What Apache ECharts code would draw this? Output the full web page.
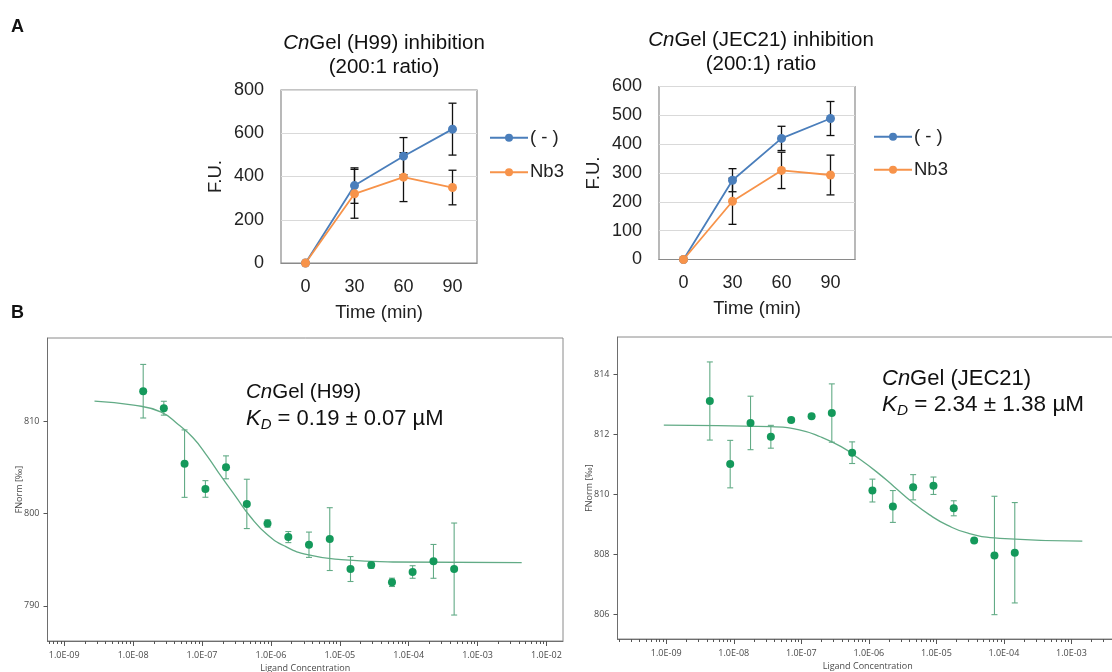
<!DOCTYPE html>
<html><head><meta charset="utf-8">
<script src="https://cdn.jsdelivr.net/npm/echarts@6/dist/echarts.min.js"></script>
<style>html,body{margin:0;padding:0;background:#fff}#c{width:1112px;height:672px}</style>
</head><body><div id="c"></div><script>
// ---------- Panel A data ----------
const timeCats = ['0', '30', '60', '90'];
const h99None = [0, 358, 494, 619];
const h99NoneErr = [0, 82, 86, 120];
const h99Nb3 = [0, 320, 397, 349];
const h99Nb3Err = [0, 113, 113, 80];
const jecNone = [0, 275, 420, 489];
const jecNoneErr = [0, 40, 42, 59];
const jecNb3 = [0, 202, 309, 293];
const jecNb3Err = [0, 80, 63, 69];

// ---------- Panel B data ----------
const h99Conc = [1.40e-8, 2.79e-8, 5.58e-8, 1.12e-7, 2.23e-7, 4.47e-7, 8.93e-7, 1.79e-6, 3.57e-6, 7.15e-6, 1.43e-5, 2.86e-5, 5.72e-5, 1.14e-4, 2.29e-4, 4.57e-4];
const h99FNorm = [813.24, 811.4, 805.4, 802.66, 805.0, 801.04, 798.92, 797.45, 796.62, 797.23, 793.99, 794.42, 792.55, 793.67, 794.82, 793.99];
const h99FErr = [2.9, 0.75, 3.65, 0.9, 1.24, 2.67, 0.4, 0.6, 1.37, 3.4, 1.35, 0.35, 0.45, 0.68, 1.83, 4.98];
const h99FitConc = [2.75e-9, 1.02e-8, 2.51e-8, 4.57e-8, 7.41e-8, 1.17e-7, 1.91e-7, 3.09e-7, 5.01e-7, 8.91e-7, 1.62e-6, 3.39e-6, 1.05e-5, 5.89e-5, 4.37e-3];
const h99Fit = [812.16, 811.73, 811.0, 809.6, 808.2, 806.3, 803.99, 801.83, 799.68, 797.7, 796.44, 795.54, 795.0, 794.75, 794.68];

const jecConc = [4.42e-9, 8.85e-9, 1.77e-8, 3.54e-8, 7.08e-8, 1.42e-7, 2.83e-7, 5.66e-7, 1.13e-6, 2.27e-6, 4.53e-6, 9.06e-6, 1.81e-5, 3.63e-5, 7.25e-5, 1.45e-4];
const jecFNorm = [813.10, 811.0, 812.37, 811.91, 812.47, 812.59, 812.70, 811.38, 810.12, 809.59, 810.23, 810.28, 809.53, 808.46, 807.96, 808.05];
const jecFErr = [1.3, 0.79, 0.89, 0.38, 0.08, 0.06, 0.97, 0.36, 0.38, 0.53, 0.42, 0.29, 0.25, 0.05, 1.97, 1.67];
const jecFitConc = [9.2e-10, 3.55e-8, 9.33e-8, 1.91e-7, 3.89e-7, 7.08e-7, 1.29e-6, 2.37e-6, 4.31e-6, 7.94e-6, 1.45e-5, 2.95e-5, 8.71e-5, 1.45e-3];
const jecFit = [812.30, 812.25, 812.14, 811.91, 811.58, 811.19, 810.75, 810.25, 809.75, 809.31, 808.97, 808.70, 808.53, 808.44];

// ---------- tick labels ----------
const b1DecadeExp = [-9, -8, -7, -6, -5, -4, -3, -2];
const b1DecadeLabels = ['1.0E-09', '1.0E-08', '1.0E-07', '1.0E-06', '1.0E-05', '1.0E-04', '1.0E-03', '1.0E-02'];
const b2DecadeExp = [-9, -8, -7, -6, -5, -4, -3];
const b2DecadeLabels = ['1.0E-09', '1.0E-08', '1.0E-07', '1.0E-06', '1.0E-05', '1.0E-04', '1.0E-03'];
const b1YTicks = [790, 800, 810];
const b2YTicks = [806, 808, 810, 812, 814];

// ---------- helpers ----------
const F = 'Liberation Sans, Arial, sans-serif';
const FS = 'Open Sans, Noto Sans, sans-serif';
const BLUE = '#4a7ebb', ORANGE = '#f7934a', GREEN = '#14995b', GREEN_L = '#62ab86';
const B1X = [-9.243, -1.76], B2X = [-9.722, -2.31];

function logTicks(ext) {
  const out = [];
  for (let n = Math.floor(ext[0]); n <= Math.ceil(ext[1]); n++) {
    for (let k = 1; k < 10; k++) {
      const v = n + Math.log10(k);
      if (v >= ext[0] && v <= ext[1]) out.push(v);
    }
  }
  return out;
}
function errRender(capW, color, lw) {
  return function (params, api) {
    const x = api.value(0), y = api.value(1), e = api.value(2);
    const hi = api.coord([x, y + e]), lo = api.coord([x, y - e]);
    const st = { stroke: color, lineWidth: lw };
    return {
      type: 'group', children: [
        { type: 'line', shape: { x1: hi[0], y1: hi[1], x2: lo[0], y2: lo[1] }, style: st },
        { type: 'line', shape: { x1: hi[0] - capW / 2, y1: hi[1], x2: hi[0] + capW / 2, y2: hi[1] }, style: st },
        { type: 'line', shape: { x1: lo[0] - capW / 2, y1: lo[1], x2: lo[0] + capW / 2, y2: lo[1] }, style: st }
      ]
    };
  };
}
function errData(vals, errs) {
  const d = [];
  vals.forEach((v, i) => { if (errs[i] > 0) d.push([i, v, errs[i]]); });
  return d;
}
function logPairs(xs, ys, errs) {
  return xs.map((c, i) => errs ? [Math.log10(c), ys[i], errs[i]] : [Math.log10(c), ys[i]]);
}
function decadeFmt(exps, labels) {
  return function (v) {
    const i = exps.indexOf(Math.round(v));
    return i >= 0 && Math.abs(v - exps[i]) < 1e-6 ? labels[i] : '';
  };
}

const aLabel = { fontFamily: F, fontSize: 18, color: '#222' };
function catX(gi) {
  return {
    type: 'category', gridIndex: gi, data: timeCats, boundaryGap: true,
    axisLine: { lineStyle: { color: '#8a8a8a', width: 1.2 } }, axisTick: { show: false },
    axisLabel: Object.assign({ margin: 15 }, aLabel),
    name: 'Time (min)', nameLocation: 'middle', nameGap: 40, nameMoveOverlap: false,
    nameTextStyle: { fontFamily: F, fontSize: 18.5, color: '#222' }
  };
}
function valY(gi, max, interval) {
  return {
    type: 'value', gridIndex: gi, min: 0, max: max, interval: interval,
    axisLine: { show: false }, axisTick: { show: false },
    axisLabel: Object.assign({ margin: 17 }, aLabel),
    splitLine: { lineStyle: { color: '#d9d9d9', width: 1.2 } },
    name: 'F.U.', nameLocation: 'middle', nameGap: 56, nameRotate: 90, nameMoveOverlap: false,
    nameTextStyle: { fontFamily: F, fontSize: 18.5, color: '#222' }
  };
}
const bLabel = { fontFamily: FS, fontSize: 9, color: '#4a4a4a' };
function logX(gi, ext, exps, labels) {
  return {
    type: 'value', gridIndex: gi, position: 'bottom', min: ext[0], max: ext[1],
    axisLine: { lineStyle: { color: '#6e6e6e' } },
    axisTick: { show: true, length: 3, customValues: logTicks(ext), lineStyle: { color: '#555' } },
    axisLabel: Object.assign({ margin: 10, customValues: exps, formatter: decadeFmt(exps, labels) }, bLabel),
    splitLine: { show: false },
    name: 'Ligand Concentration', nameLocation: 'middle', nameGap: 22.5, nameMoveOverlap: false,
    nameTextStyle: { fontFamily: FS, fontSize: 9, color: '#4a4a4a' }
  };
}
function majorX(gi, ext, exps) {
  return {
    type: 'value', gridIndex: gi, position: 'bottom', min: ext[0], max: ext[1],
    axisLine: { show: false },
    axisTick: { show: true, length: 5, customValues: exps, lineStyle: { color: '#555' } },
    axisLabel: { show: false }, splitLine: { show: false }
  };
}
function fY(gi, min, max, ticks, gap) {
  return {
    type: 'value', gridIndex: gi, min: min, max: max,
    axisLine: { show: true, lineStyle: { color: '#6e6e6e' } },
    axisTick: { show: true, length: 4, customValues: ticks, lineStyle: { color: '#555' } },
    axisLabel: Object.assign({ margin: 8, customValues: ticks }, bLabel),
    splitLine: { show: false },
    name: 'FNorm [‰]', nameLocation: 'middle', nameGap: gap, nameRotate: 90, nameMoveOverlap: false,
    nameTextStyle: { fontFamily: FS, fontSize: 9, color: '#4a4a4a' }
  };
}
function lineSeries(name, data, color, xi, yi) {
  return {
    type: 'line', name: name, xAxisIndex: xi, yAxisIndex: yi, data: data,
    symbol: 'circle', symbolSize: 9, z: 3,
    lineStyle: { color: color, width: 1.8 }, itemStyle: { color: color }
  };
}
function aErr(vals, errs, xi, yi) {
  return {
    type: 'custom', name: 'err', xAxisIndex: xi, yAxisIndex: yi, z: 2,
    renderItem: errRender(8, '#111', 1.3), data: errData(vals, errs), encode: { x: 0, y: 1 }
  };
}
function legendAt(left, top, gap) {
  return {
    data: ['( - )', 'Nb3'], orient: 'vertical', left: left, top: top, padding: 0,
    itemWidth: 38, itemHeight: 10, itemGap: gap, selectedMode: false,
    textStyle: { fontFamily: F, fontSize: 18.5, color: '#222', lineHeight: 20, padding: [0, 0, 0, -3] }
  };
}
function txt(x, y, text, size, extra) {
  return {
    type: 'text', x: x, y: y, silent: true,
    style: Object.assign({
      text: text, fontFamily: F, fontSize: size, fill: '#111',
      align: 'left', verticalAlign: 'middle', textAlign: 'left', textVerticalAlign: 'middle'
    }, extra || {})
  };
}
const italicRich = (size) => ({
  i: { fontStyle: 'italic', fontSize: size, fontFamily: F, fill: '#111', color: '#111' },
  n: { fontSize: size, fontFamily: F, fill: '#111', color: '#111' },
  s: { fontStyle: 'italic', fontSize: size * 0.68, fontFamily: F, fill: '#111', color: '#111', padding: [size * 0.55, 0, 0, 0] }
});
const gridBase = { show: true, containLabel: false, outerBoundsMode: 'none' };

const option = {
  animation: false,
  backgroundColor: '#fff',
  grid: [
    Object.assign({ left: 281, top: 90, width: 196, height: 173, borderColor: '#8a8a8a', borderWidth: 1.2 }, gridBase),
    Object.assign({ left: 659, top: 86.5, width: 196, height: 173, borderColor: '#8a8a8a', borderWidth: 1.2 }, gridBase),
    Object.assign({ left: 47.5, top: 338, width: 515.5, height: 303, borderColor: '#8a8a8a', borderWidth: 1 }, gridBase),
    Object.assign({ left: 617.5, top: 337, width: 500.5, height: 302, borderColor: '#8a8a8a', borderWidth: 1 }, gridBase)
  ],
  xAxis: [
    catX(0), catX(1),
    logX(2, B1X, b1DecadeExp, b1DecadeLabels), logX(3, B2X, b2DecadeExp, b2DecadeLabels),
    majorX(2, B1X, b1DecadeExp), majorX(3, B2X, b2DecadeExp)
  ],
  yAxis: [
    valY(0, 800, 200), valY(1, 600, 100),
    fY(2, 786.2, 819.0, b1YTicks, 23.5), fY(3, 805.18, 815.23, b2YTicks, 24)
  ],
  legend: [legendAt(489, 127.7, 14.6), legendAt(873, 126.7, 13)],
  series: [
    aErr(h99None, h99NoneErr, 0, 0), aErr(h99Nb3, h99Nb3Err, 0, 0),
    lineSeries('( - )', h99None, BLUE, 0, 0), lineSeries('Nb3', h99Nb3, ORANGE, 0, 0),
    aErr(jecNone, jecNoneErr, 1, 1), aErr(jecNb3, jecNb3Err, 1, 1),
    lineSeries('( - )', jecNone, BLUE, 1, 1), lineSeries('Nb3', jecNb3, ORANGE, 1, 1),
    // B1
    { type: 'line', name: 'fit1', xAxisIndex: 2, yAxisIndex: 2, data: logPairs(h99FitConc, h99Fit),
      smooth: 0.5, showSymbol: false, symbol: 'none', z: 2,
      lineStyle: { color: GREEN_L, width: 1.3 } },
    { type: 'custom', name: 'errB1', xAxisIndex: 2, yAxisIndex: 2, z: 3,
      renderItem: errRender(6, GREEN_L, 1.1), data: logPairs(h99Conc, h99FNorm, h99FErr), encode: { x: 0, y: 1 } },
    { type: 'scatter', name: 'pts1', xAxisIndex: 2, yAxisIndex: 2, data: logPairs(h99Conc, h99FNorm),
      symbol: 'circle', symbolSize: 8, z: 4, itemStyle: { color: GREEN, opacity: 1 } },
    // B2
    { type: 'line', name: 'fit2', xAxisIndex: 3, yAxisIndex: 3, data: logPairs(jecFitConc, jecFit),
      smooth: 0.5, showSymbol: false, symbol: 'none', z: 2,
      lineStyle: { color: GREEN_L, width: 1.3 } },
    { type: 'custom', name: 'errB2', xAxisIndex: 3, yAxisIndex: 3, z: 3,
      renderItem: errRender(6, GREEN_L, 1.1), data: logPairs(jecConc, jecFNorm, jecFErr), encode: { x: 0, y: 1 } },
    { type: 'scatter', name: 'pts2', xAxisIndex: 3, yAxisIndex: 3, data: logPairs(jecConc, jecFNorm),
      symbol: 'circle', symbolSize: 8, z: 4, itemStyle: { color: GREEN, opacity: 1 } }
  ],
  graphic: [
    txt(11, 27, 'A', 18, { fontWeight: 'bold' }),
    txt(11, 313, 'B', 18, { fontWeight: 'bold' }),
    txt(384, 43, '{i|Cn}{n|Gel (H99) inhibition}', 20.5, { align: 'center', textAlign: 'center', rich: italicRich(20.5) }),
    txt(384, 67, '(200:1 ratio)', 20.5, { align: 'center', textAlign: 'center' }),
    txt(761, 40, '{i|Cn}{n|Gel (JEC21) inhibition}', 20.5, { align: 'center', textAlign: 'center', rich: italicRich(20.5) }),
    txt(761, 64, '(200:1) ratio', 20.5, { align: 'center', textAlign: 'center' }),
    txt(246, 392, '{i|Cn}{n|Gel (H99)}', 20.5, { rich: italicRich(20.5) }),
    txt(246, 419, '{i|K}{s|D}{n| = 0.19 ± 0.07 µM}', 22, { rich: italicRich(22) }),
    txt(882, 379, '{i|Cn}{n|Gel (JEC21)}', 22, { rich: italicRich(22) }),
    txt(882, 405, '{i|K}{s|D}{n| = 2.34 ± 1.38 µM}', 22.5, { rich: italicRich(22.5) })
  ]
};
const chart = echarts.init(document.getElementById('c'));
chart.setOption(option);
</script></body></html>
